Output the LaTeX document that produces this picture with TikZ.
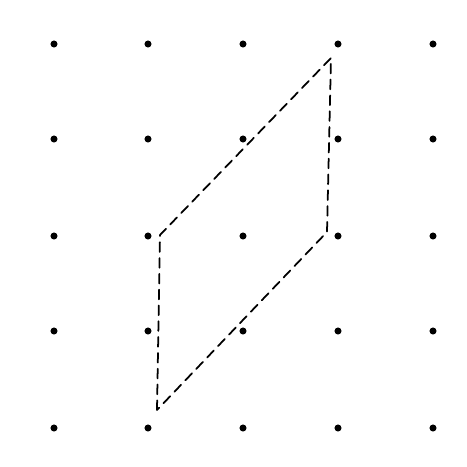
\documentclass[tikz,border=0pt]{standalone}
\usepackage{tikz}
\usetikzlibrary{calc}

\begin{document}
\begin{tikzpicture}[
    x=0.02cm, y=-0.02cm,
    dot/.style={circle, fill=black, inner sep=0pt, minimum size=4pt},
    sketch/.style={line width=1pt, dash pattern=on 5.5pt off 3.5pt, line cap=round, line join=round},
    ]

    % Frame
    \useasboundingbox (0,0) rectangle (467,467);

    % Dot grid
    \foreach \c [count=\i] in {54,148,243,338,433} {
        \foreach \r [count=\j] in {44,139,236,331,428} {
            \node[dot] (d\i\j) at (\c,\r) {};
        }
    }

    % Parallelogram corners
    \coordinate (pA) at (157,410);
    \coordinate (pB) at (160,235);
    \coordinate (pC) at (331,58);
    \coordinate (pD) at (327,232);

    % Parallelogram
    \draw[sketch] (pA) -- (pB) -- (pC) -- (pD) -- cycle;

\end{tikzpicture}
\end{document}
